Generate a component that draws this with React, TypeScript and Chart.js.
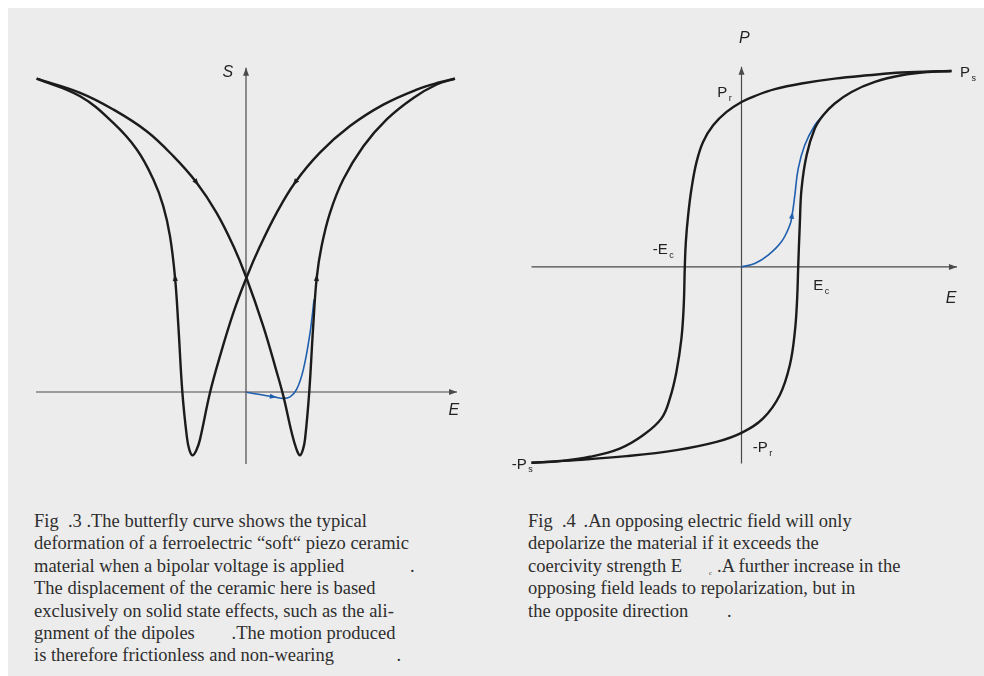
import React, { useEffect, useRef } from "react";
import { Chart, registerables } from "chart.js";
Chart.register(...registerables);

// ---------- Fig. 3 : butterfly curve (E, S) ----------
const fallE = [9.95, 9.24, 8.13, 6.54, 4.95, 3.52, 2.33, 1.46, 0.67, 0.02, -0.6, -1.24, -1.71, -2.19, -2.35, -2.54, -2.7, -2.82, -3.03, -3.22, -3.38, -3.62, -3.94, -4.41, -5.2, -6.32, -7.9, -9.97];
const fallS = [9.79, 9.68, 9.45, 8.98, 8.31, 7.48, 6.54, 5.6, 4.56, 3.57, 2.48, 1.12, -0.01, -1.48, -1.8, -1.98, -1.8, -1.38, -0.01, 2.06, 3.58, 4.87, 5.81, 6.64, 7.58, 8.41, 9.24, 9.79];
const fallArrows = [6, 20];
const riseE = [-9.97, -7.9, -6.32, -4.73, -3.46, -2.35, -1.4, -0.6, 0.02, 0.82, 1.43, 1.78, 2.18, 2.41, 2.57, 2.71, 2.81, 3.01, 3.2, 3.37, 3.6, 4.0, 4.63, 5.59, 6.7, 7.97, 9.08, 9.95];
const riseS = [9.79, 9.35, 8.83, 8.15, 7.37, 6.54, 5.6, 4.56, 3.57, 2.06, 0.7, -0.13, -1.28, -1.8, -1.98, -1.8, -1.48, -0.01, 2.06, 3.58, 4.56, 5.6, 6.64, 7.68, 8.52, 9.19, 9.61, 9.79];
const riseArrows = [5, 19];
const virginSE = [0.03, 0.67, 1.3, 1.78, 2.1, 2.41, 2.73, 3.05, 3.24];
const virginSS = [-0.01, -0.08, -0.15, -0.2, -0.15, 0.08, 0.7, 1.85, 2.89];
const virginSArrows = [2];
const sAxisE = [-10, 10.05];
const sAxisS = [-2.25, 10.13];
const fig3Range = { e: [-11, 11], s: [-3, 11] };

// ---------- Fig. 4 : hysteresis loop (E, P) ----------
const upperE = [10, 7.62, 6.03, 4.44, 2.86, 1.59, 0.63, 0, -0.71, -1.35, -1.83, -2.14, -2.38, -2.54, -2.65, -2.7, -2.75, -2.86, -3.1, -3.41, -3.81, -4.69, -5.8, -7.22, -8.65, -10];
const upperP = [10, 9.92, 9.78, 9.61, 9.36, 9.07, 8.72, 8.42, 7.91, 7.23, 6.38, 5.36, 4.0, 2.64, 1.28, 0, -1.95, -3.65, -5.36, -6.71, -7.73, -8.59, -9.27, -9.69, -9.91, -10];
const lowerE = [-10, -7.86, -5.48, -3.1, -1.19, 0, 1.03, 1.82, 2.3, 2.54, 2.65, 2.7, 2.78, 2.86, 3.1, 3.49, 3.89, 4.44, 5.24, 6.35, 7.62, 8.89, 10];
const lowerP = [-10, -9.86, -9.66, -9.35, -8.93, -8.47, -7.73, -6.55, -5.02, -3.32, -1.61, 0, 2.3, 4.0, 5.7, 7.06, 7.74, 8.34, 8.93, 9.44, 9.78, 9.95, 10];
const virginPE = [0, 0.63, 1.27, 1.9, 2.3, 2.41, 2.54, 2.7, 3.01, 3.49, 3.89];
const virginPP = [0, 0.17, 0.6, 1.28, 2.13, 2.64, 3.66, 5.02, 6.21, 7.23, 7.74];
const virginPArrows = [5];
const pAxisE = [-10, 10.26];
const pAxisP = [-10.03, 10.22];
const fig4Range = { e: [-11.5, 11.5], p: [-12, 12.5] };

// ---------- annotation labels (text, subscript, position in data units) ----------
const fig3Labels = [
  { t: "S", x: -0.86, y: 9.97, italic: true, align: "center" },
  { t: "E", x: 9.9, y: -0.59, italic: true, align: "center" },
];
const fig4Labels = [
  { t: "P", x: 0.14, y: 11.63, italic: true, align: "center" },
  { t: "E", x: 9.98, y: -1.64, italic: true, align: "center" },
  { t: "P", sub: "s", x: 10.4, y: 9.9 },
  { t: "P", sub: "r", x: -1.15, y: 8.86 },
  { t: "-E", sub: "c", x: -4.23, y: 0.86 },
  { t: "E", sub: "c", x: 3.42, y: -0.96 },
  { t: "-P", sub: "r", x: 0.53, y: -9.23 },
  { t: "-P", sub: "s", x: -10.94, y: -10.08 },
];

const BLACK = "#1b1b1b";
const AXIS = "#4a4a4a";
const BLUE = "#1f5fae";

const zip = (xs: number[], ys: number[]) => xs.map((x, i) => ({ x, y: ys[i] }));

function drawHead(ctx: CanvasRenderingContext2D, tx: number, ty: number, a: number, len: number, hw: number, color: string) {
  const dx = Math.cos(a), dy = Math.sin(a);
  const bx = tx - dx * len, by = ty - dy * len;
  ctx.beginPath();
  ctx.moveTo(tx, ty);
  ctx.lineTo(bx - dy * hw, by + dx * hw);
  ctx.lineTo(bx + dy * hw, by - dx * hw);
  ctx.closePath();
  ctx.fillStyle = color;
  ctx.fill();
}

const decorPlugin = {
  id: "decor",
  afterDatasetsDraw(chart: any, _args: any, opts: any) {
    const ctx: CanvasRenderingContext2D = chart.ctx;
    const sx = chart.scales.x, sy = chart.scales.y;
    const px = (p: any) => [sx.getPixelForValue(p.x), sy.getPixelForValue(p.y)];
    ctx.save();
    chart.data.datasets.forEach((ds: any) => {
      const pts = ds.data;
      const col = ds.borderColor;
      (ds.arrowAt || []).forEach((i: number) => {
        const [x0, y0] = px(pts[i - 1]);
        const [x1, y1] = px(pts[i + 1]);
        const [cx, cy] = px(pts[i]);
        const a = Math.atan2(y1 - y0, x1 - x0);
        const len = ds.arrowLen || 7;
        drawHead(ctx, cx + Math.cos(a) * len / 2, cy + Math.sin(a) * len / 2, a, len, ds.arrowHw || 2.6, col);
      });
      if (ds.arrowEnd) {
        const n = pts.length;
        const [x0, y0] = px(pts[n - 2]);
        const [x1, y1] = px(pts[n - 1]);
        drawHead(ctx, x1, y1, Math.atan2(y1 - y0, x1 - x0), 8, 3, col);
      }
    });
    ctx.fillStyle = "#222";
    ctx.textBaseline = "middle";
    (opts.labels || []).forEach((l: any) => {
      const x = sx.getPixelForValue(l.x);
      const y = sy.getPixelForValue(l.y);
      ctx.font = `${l.italic ? "italic " : ""}${l.italic ? 16 : 15}px "Liberation Sans", Arial, sans-serif`;
      ctx.textAlign = l.align || "left";
      ctx.fillText(l.t, x, y);
      if (l.sub) {
        const w = ctx.measureText(l.t).width;
        ctx.font = `9px "Liberation Sans", Arial, sans-serif`;
        ctx.textAlign = "left";
        ctx.fillText(l.sub, x + w + 1.5, y + 5.5);
      }
    });
    ctx.restore();
  },
};

const line = (data: any[], color: string, width: number, extra: any = {}) => ({
  data,
  showLine: true,
  borderColor: color,
  backgroundColor: color,
  borderWidth: width,
  pointRadius: 0,
  pointHoverRadius: 0,
  tension: 0.4,
  fill: false,
  clip: false,
  ...extra,
});

const makeConfig = (datasets: any[], xr: number[], yr: number[], labels: any[]) => ({
  type: "scatter",
  data: { datasets },
  options: {
    animation: false,
    responsive: false,
    maintainAspectRatio: false,
    devicePixelRatio: 1,
    events: [],
    layout: { padding: 0 },
    plugins: { legend: { display: false }, tooltip: { enabled: false }, decor: { labels } },
    scales: {
      x: { type: "linear", display: false, min: xr[0], max: xr[1] },
      y: { type: "linear", display: false, min: yr[0], max: yr[1] },
    },
  },
  plugins: [decorPlugin],
});

function Plot({ config, left, top, width, height }: any) {
  const ref = useRef<HTMLCanvasElement>(null);
  useEffect(() => {
    const c = new Chart(ref.current as HTMLCanvasElement, config);
    return () => c.destroy();
  }, []);
  return (
    <canvas
      ref={ref}
      width={width}
      height={height}
      style={{ position: "absolute", left, top, width, height }}
    />
  );
}

const fig3Config = makeConfig(
  [
    line(zip(sAxisE, [0, 0]), AXIS, 1.2, { tension: 0, arrowEnd: true, order: 5 }),
    line(zip([0, 0], sAxisS), AXIS, 1.2, { tension: 0, arrowEnd: true, order: 5 }),
    line(zip(virginSE, virginSS), BLUE, 1.6, { arrowAt: virginSArrows, order: 3 }),
    line(zip(fallE, fallS), BLACK, 2.4, { arrowAt: fallArrows, order: 1 }),
    line(zip(riseE, riseS), BLACK, 2.4, { arrowAt: riseArrows, order: 1 }),
  ],
  fig3Range.e,
  fig3Range.s,
  fig3Labels
);

const fig4Config = makeConfig(
  [
    line(zip(pAxisE, [0, 0]), AXIS, 1.2, { tension: 0, arrowEnd: true, order: 5 }),
    line(zip([0, 0], pAxisP), AXIS, 1.2, { tension: 0, arrowEnd: true, order: 5 }),
    line(zip(virginPE, virginPP), BLUE, 1.6, { arrowAt: virginPArrows, order: 3 }),
    line(zip(upperE, upperP), BLACK, 2.4, { order: 1 }),
    line(zip(lowerE, lowerP), BLACK, 2.4, { order: 1 }),
  ],
  fig4Range.e,
  fig4Range.p,
  fig4Labels
);

const capFont: React.CSSProperties = {
  fontFamily: '"Liberation Serif", "Times New Roman", serif',
  fontSize: 18.5,
  lineHeight: "22.4px",
  color: "#2e2e2e",
  whiteSpace: "pre",
};

const Line = ({ children }: any) => <div style={{ position: "relative", height: 22.4 }}>{children}</div>;
const At = ({ x, children, style }: any) => (
  <span style={{ position: "absolute", left: x, top: 0, ...style }}>{children}</span>
);

export default function App() {
  return (
    <div
      style={{
        position: "fixed",
        left: 8,
        top: 8,
        width: 976,
        height: 668,
        background: "#ececec",
        overflow: "hidden",
      }}
    >
      <Plot config={fig3Config} left={7} top={32} width={462} height={448} />
      <Plot config={fig4Config} left={492} top={14} width={483} height={480} />

      <div style={{ ...capFont, position: "absolute", left: 26, top: 502 }}>
        <Line>Fig  .3 .The butterfly curve shows the typical</Line>
        <Line>deformation of a ferroelectric “soft“ piezo ceramic</Line>
        <Line>
          material when a bipolar voltage is applied<At x={376}>.</At>
        </Line>
        <Line>The displacement of the ceramic here is based</Line>
        <Line>exclusively on solid state effects, such as the ali-</Line>
        <Line>
          gnment of the dipoles<At x={197.5}>.The motion produced</At>
        </Line>
        <Line>
          is therefore frictionless and non-wearing<At x={362.5}>.</At>
        </Line>
      </div>

      <div style={{ ...capFont, position: "absolute", left: 520, top: 502 }}>
        <Line>Fig  .4 {"\u2006"}.An opposing electric field will only</Line>
        <Line>depolarize the material if it exceeds the</Line>
        <Line>
          coercivity strength E
          <At x={181} style={{ fontSize: 6, top: 7 }}>c</At>
          <At x={189}>.A further increase in the</At>
        </Line>
        <Line>opposing field leads to repolarization, but in</Line>
        <Line>
          the opposite direction<At x={199}>.</At>
        </Line>
      </div>
    </div>
  );
}
